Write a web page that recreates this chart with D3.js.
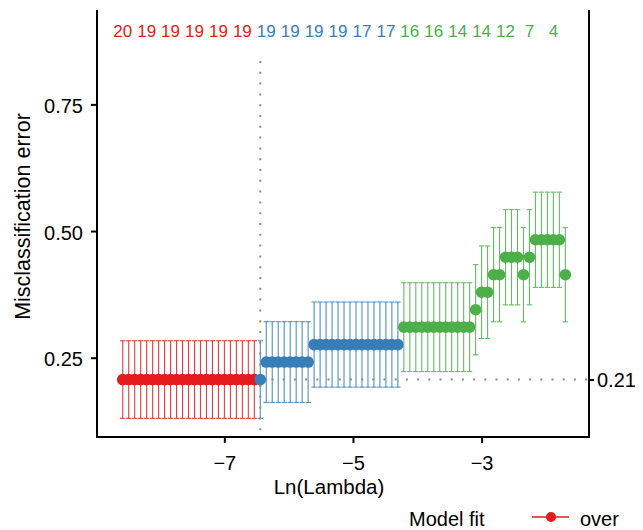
<!DOCTYPE html>
<html><head><meta charset="utf-8">
<script src="https://cdn.jsdelivr.net/npm/d3@7"></script>
<style>
body{margin:0;background:#fff}
svg{display:block}
text{font-family:"Liberation Sans",Arial,Helvetica,sans-serif}
</style>
</head><body>
<svg id="c" width="643" height="530"></svg>
<script>
// ---- data ----
const logLambda = [
 -8.580,-8.487,-8.394,-8.301,-8.208,-8.115,-8.022,-7.929,-7.836,-7.743,
 -7.650,-7.557,-7.464,-7.371,-7.278,-7.185,-7.092,-6.999,-6.906,-6.813,
 -6.720,-6.627,-6.534,-6.441,-6.348,-6.255,-6.162,-6.069,-5.976,-5.883,
 -5.790,-5.697,-5.604,-5.511,-5.418,-5.325,-5.232,-5.139,-5.046,-4.953,
 -4.860,-4.767,-4.674,-4.581,-4.488,-4.395,-4.302,-4.209,-4.116,-4.023,
 -3.930,-3.837,-3.744,-3.651,-3.558,-3.465,-3.372,-3.279,-3.186,-3.093,
 -3.000,-2.907,-2.814,-2.721,-2.628,-2.535,-2.442,-2.349,-2.256,-2.163,
 -2.070,-1.977,-1.884,-1.791,-1.698
];
const cvm = [
 0.2069,0.2069,0.2069,0.2069,0.2069,0.2069,0.2069,0.2069,0.2069,0.2069,
 0.2069,0.2069,0.2069,0.2069,0.2069,0.2069,0.2069,0.2069,0.2069,0.2069,
 0.2069,0.2069,0.2069,0.2069,0.2414,0.2414,0.2414,0.2414,0.2414,0.2414,
 0.2414,0.2414,0.2759,0.2759,0.2759,0.2759,0.2759,0.2759,0.2759,0.2759,
 0.2759,0.2759,0.2759,0.2759,0.2759,0.2759,0.2759,0.3103,0.3103,0.3103,
 0.3103,0.3103,0.3103,0.3103,0.3103,0.3103,0.3103,0.3103,0.3103,0.3448,
 0.3793,0.3793,0.4138,0.4138,0.4483,0.4483,0.4483,0.4138,0.4483,0.4828,
 0.4828,0.4828,0.4828,0.4828,0.4138
];
const cvsd = [
 0.0766,0.0766,0.0766,0.0766,0.0766,0.0766,0.0766,0.0766,0.0766,0.0766,
 0.0766,0.0766,0.0766,0.0766,0.0766,0.0766,0.0766,0.0766,0.0766,0.0766,
 0.0766,0.0766,0.0766,0.0766,0.0797,0.0797,0.0797,0.0797,0.0797,0.0797,
 0.0797,0.0797,0.0840,0.0840,0.0840,0.0840,0.0840,0.0840,0.0840,0.0840,
 0.0840,0.0840,0.0840,0.0840,0.0840,0.0840,0.0840,0.0877,0.0877,0.0877,
 0.0877,0.0877,0.0877,0.0877,0.0877,0.0877,0.0877,0.0877,0.0877,0.0890,
 0.0913,0.0913,0.0930,0.0930,0.0940,0.0940,0.0940,0.0930,0.0940,0.0940,
 0.0940,0.0940,0.0940,0.0940,0.0930
];
const nzeroIndex = [0,4,8,12,16,20,24,28,32,36,40,44,48,52,56,60,64,68,72];
const nzeroCount = [20,19,19,19,19,19,19,19,19,19,17,17,16,16,14,14,12,7,4];
const xTicks = [-7,-5,-3];
const yTicks = [0.25,0.50,0.75];
const fitLevels = ["over","best","under"];
const fitColors = ["#E41A1C","#377EB8","#4DAF4A"];

// ---- derived: lambda.min and lambda.1se ----
const minErr = d3.min(cvm);
let minIdx = 0;
for (let i = 0; i < cvm.length; i++) if (cvm[i] === minErr) minIdx = i;
const thr = minErr + cvsd[minIdx];
let seIdx = minIdx;
for (let i = minIdx; i < cvm.length; i++) if (cvm[i] <= thr) seIdx = i;
const fitOf = i => i < minIdx ? 0 : (i <= seIdx ? 1 : 2);

const pts = logLambda.map((l, i) => ({l, m: cvm[i], sd: cvsd[i], g: fitOf(i)}));

// ---- layout ----
const L = 97, R = 589, T = 10, B = 437;
const x = d3.scaleLinear().domain([-8.98, -1.33]).range([L, R]);
const y = d3.scaleLinear().domain([0.0935, 0.9363]).range([B, T]);
const color = d3.scaleOrdinal().domain([0,1,2]).range(fitColors);

const svg = d3.select("#c");

// error bars
const eb = svg.append("g");
const capW = 2.7;
pts.forEach(p => {
  const c = color(p.g);
  const g = eb.append("g").attr("stroke", c).attr("stroke-width", 1.1).attr("opacity", 0.85);
  g.append("line").attr("x1", x(p.l)).attr("x2", x(p.l)).attr("y1", y(p.m + p.sd)).attr("y2", y(p.m - p.sd));
  g.append("line").attr("x1", x(p.l) - capW).attr("x2", x(p.l) + capW).attr("y1", y(p.m + p.sd)).attr("y2", y(p.m + p.sd));
  g.append("line").attr("x1", x(p.l) - capW).attr("x2", x(p.l) + capW).attr("y1", y(p.m - p.sd)).attr("y2", y(p.m - p.sd));
});

// reference dotted lines
svg.append("line")
  .attr("x1", x(logLambda[minIdx])).attr("x2", x(logLambda[minIdx]))
  .attr("y1", 61).attr("y2", B)
  .attr("stroke", "#8a8a8a").attr("stroke-width", 2)
  .attr("stroke-dasharray", "2,8.8");
svg.append("line")
  .attr("x1", x(logLambda[minIdx])).attr("x2", R)
  .attr("y1", y(minErr)).attr("y2", y(minErr))
  .attr("stroke", "#8a8a8a").attr("stroke-width", 2)
  .attr("stroke-dasharray", "2,9.2");

// points
svg.append("g").selectAll("circle").data(pts).join("circle")
  .attr("cx", d => x(d.l)).attr("cy", d => y(d.m)).attr("r", 5.8)
  .attr("fill", d => color(d.g));

// top labels (number of nonzero coefficients)
svg.append("g").selectAll("text").data(nzeroIndex).join("text")
  .attr("x", i => x(logLambda[i])).attr("y", 36.5)
  .attr("text-anchor", "middle").attr("font-size", 17)
  .attr("fill", (i) => color(fitOf(i)))
  .text((i, k) => nzeroCount[k]);

// axes
function styleAxis(g) {
  g.select(".domain").remove();
  g.selectAll(".tick line").attr("stroke", "#000").attr("stroke-width", 2);
  g.selectAll(".tick text").attr("fill", "#000").attr("font-size", 20)
    .attr("font-family", '"Liberation Sans",Arial,Helvetica,sans-serif');
}
const gx = svg.append("g").attr("transform", `translate(0,${B})`)
  .call(d3.axisBottom(x).tickValues(xTicks).tickSize(6).tickPadding(13).tickFormat(d3.format("d")));
styleAxis(gx);
const gy = svg.append("g").attr("transform", `translate(${L},0)`)
  .call(d3.axisLeft(y).tickValues(yTicks).tickSize(6).tickPadding(8).tickFormat(d3.format(".2f")));
styleAxis(gy);
gy.selectAll(".tick text").attr("dy", "0.4em");
const gr = svg.append("g").attr("transform", `translate(${R},0)`)
  .call(d3.axisRight(y).tickValues([minErr]).tickSize(5).tickPadding(3).tickFormat(d3.format(".2f")));
styleAxis(gr);
gr.selectAll(".tick text").attr("dy", "0.36em");

// axis lines
const axl = svg.append("g").attr("stroke", "#000").attr("stroke-width", 2).attr("fill", "none");
axl.append("path").attr("d", `M${L},${T}V${B}H${R}V${T}`);

// axis titles
svg.append("text").attr("x", 329).attr("y", 494).attr("text-anchor", "middle")
  .attr("font-size", 20.5).text("Ln(Lambda)");
svg.append("text").attr("transform", "translate(30,216.5) rotate(-90)")
  .attr("text-anchor", "middle").attr("font-size", 21.5).text("Misclassification error");

// legend
const lg = svg.append("g");
lg.append("text").attr("x", 409).attr("y", 525.5).attr("font-size", 20).text("Model fit");
lg.append("line").attr("x1", 532).attr("x2", 569).attr("y1", 517).attr("y2", 517)
  .attr("stroke", fitColors[0]).attr("stroke-width", 1.6);
lg.append("circle").attr("cx", 551).attr("cy", 517).attr("r", 5).attr("fill", fitColors[0]);
lg.append("text").attr("x", 580).attr("y", 525.5).attr("font-size", 20).text(fitLevels[0]);
</script>
</body></html>
